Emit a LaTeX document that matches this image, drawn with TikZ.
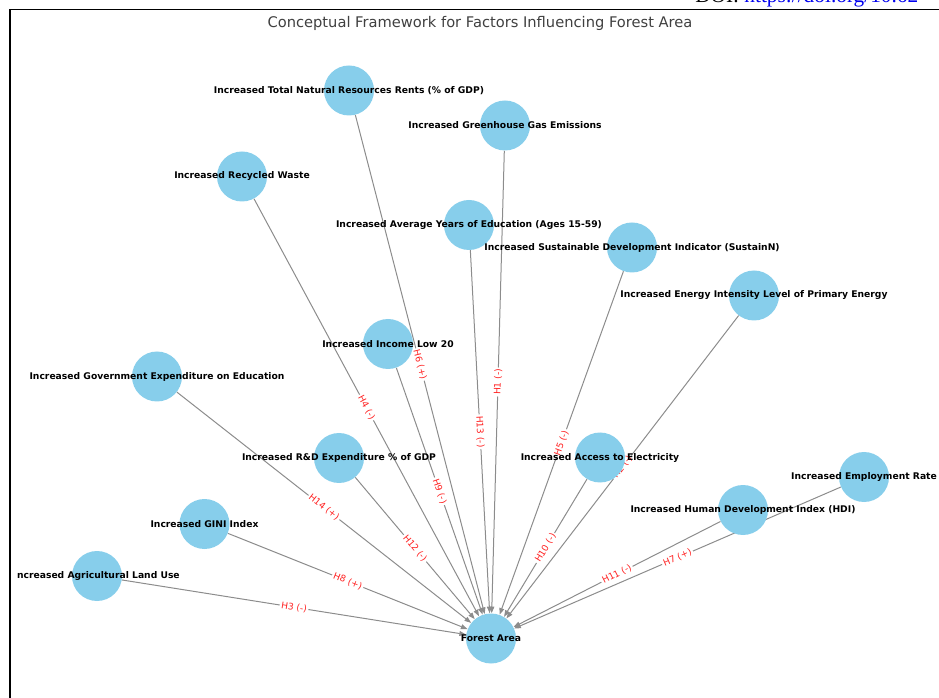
\documentclass[tikz,border=0pt]{standalone}
\usepackage{fontspec}
\setmainfont{DejaVu Sans}
\newfontfamily\doiserif{Liberation Serif}
\usetikzlibrary{arrows.meta}
\pgfdeclarelayer{bg}\pgfdeclarelayer{fg}\pgfsetlayers{bg,main,fg}
\definecolor{sky}{HTML}{87CEEB}
\definecolor{edgegray}{HTML}{8C8C8C}
\definecolor{labred}{HTML}{FF2020}
\definecolor{titlegray}{HTML}{404040}
\definecolor{linkblue}{HTML}{0000EE}
\begin{document}
\begin{tikzpicture}[x=0.75pt,y=-0.75pt,
  fnode/.style={circle, fill=sky, draw=none, minimum size=37.5pt, inner sep=0pt},
  ntext/.style={font=\bfseries\fontsize{6.9}{8}\selectfont, text=black, inner sep=0pt},
  edge/.style={draw=edgegray, line width=0.75pt, -{Triangle[length=5pt,width=3.6pt]}},
  elab/.style={midway, sloped, fill=white, text=labred, font=\fontsize{6.8}{8}\selectfont, inner sep=1.2pt}]
\useasboundingbox (0,0) rectangle (939,698);
\begin{scope}
\clip (0,0) rectangle (939,698);
\node[anchor=base west, font=\doiserif\fontsize{16}{18}\selectfont, inner sep=0pt] (doi) at (695,2.5) {DOI: \textcolor{linkblue}{\underline{https://doi.org/10.62}}};
\end{scope}
\draw[line width=1.4pt] (10,698) -- (10,9.5) -- (939,9.5);
\node[font=\fontsize{11}{13}\selectfont, text=titlegray, anchor=base] (title) at (480,28) {Conceptual Framework for Factors Influencing Forest Area};

% circles
\node[fnode] (tnrr) at (349,90.5) {};
\node[fnode] (ghg) at (505,125.5) {};
\node[fnode] (recy) at (242,176.5) {};
\node[fnode] (avgedu) at (469,225) {};
\node[fnode] (sust) at (632,247.5) {};
\node[fnode] (energy) at (754,295.5) {};
\node[fnode] (income) at (388,344) {};
\node[fnode] (govedu) at (157,376.5) {};
\node[fnode] (rnd) at (339,458) {};
\node[fnode] (access) at (600,457.5) {};
\node[fnode] (employ) at (864,477) {};
\node[fnode] (hdi) at (743,510) {};
\node[fnode] (gini) at (204.5,524) {};
\node[fnode] (agri) at (97,576) {};
\node[fnode] (forest) at (491,638.5) {};

% edges
\begin{pgfonlayer}{bg}
\draw[edge] (ghg) -- node[elab]{H1 (-)} (forest);
\draw[edge] (energy) -- node[elab]{H2 (-)} (forest);
\draw[edge] (agri) -- node[elab]{H3 (-)} (forest);
\draw[edge] (recy) -- node[elab]{H4 (-)} (forest);
\draw[edge] (sust) -- node[elab]{H5 (-)} (forest);
\draw[edge] (tnrr) -- node[elab]{H6 (+)} (forest);
\draw[edge] (employ) -- node[elab]{H7 (+)} (forest);
\draw[edge] (gini) -- node[elab]{H8 (+)} (forest);
\draw[edge] (income) -- node[elab]{H9 (-)} (forest);
\draw[edge] (access) -- node[elab]{H10 (-)} (forest);
\draw[edge] (hdi) -- node[elab]{H11 (-)} (forest);
\draw[edge] (rnd) -- node[elab]{H12 (-)} (forest);
\draw[edge] (avgedu) -- node[elab]{H13 (-)} (forest);
\draw[edge] (govedu) -- node[elab]{H14 (+)} (forest);
\end{pgfonlayer}

% node texts
\begin{pgfonlayer}{fg}
\node[ntext] (tnrrT) at (tnrr) {Increased Total Natural Resources Rents (\% of GDP)};
\node[ntext] (ghgT) at (ghg) {Increased Greenhouse Gas Emissions};
\node[ntext] (recyT) at (recy) {Increased Recycled Waste};
\node[ntext] (avgeduT) at (avgedu) {Increased Average Years of Education (Ages 15-59)};
\node[ntext] (sustT) at (sust) {Increased Sustainable Development Indicator (SustainN)};
\node[ntext] (energyT) at (energy) {Increased Energy Intensity Level of Primary Energy};
\node[ntext] (incomeT) at (income) {Increased Income Low 20};
\node[ntext] (goveduT) at (govedu) {Increased Government Expenditure on Education};
\node[ntext] (rndT) at (rnd) {Increased R\&D Expenditure \% of GDP};
\node[ntext] (accessT) at (access) {Increased Access to Electricity};
\node[ntext] (employT) at (employ) {Increased Employment Rate};
\node[ntext] (hdiT) at (hdi) {Increased Human Development Index (HDI)};
\node[ntext] (giniT) at (gini) {Increased GINI Index};
\node[ntext, anchor=east] (agriT) at (180,576) {ncreased Agricultural Land Use};
\node[ntext] (forestT) at (forest) {Forest Area};
\end{pgfonlayer}
\end{tikzpicture}
\end{document}
